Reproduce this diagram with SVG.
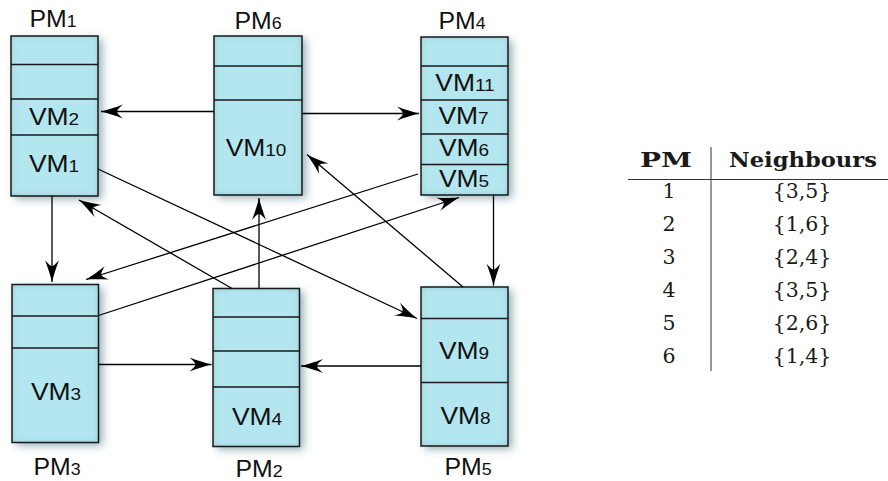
<svg xmlns="http://www.w3.org/2000/svg" width="888" height="481" viewBox="0 0 888 481">
<style>
.box{fill:#b3e6ef;filter:url(#sh)}
.out{fill:none;stroke:#1a1a1a;stroke-width:1.5}
.div{stroke:#1a1a1a;stroke-width:1.5}
.lb{font-family:"Liberation Sans",Arial,sans-serif;font-size:23px;fill:#111;text-anchor:middle}
.sub{font-size:16.5px}
.con line{stroke:#000;stroke-width:1.3;marker-end:url(#ah)}
.tb{font-family:"DejaVu Serif","Liberation Serif",serif;font-size:20.5px;fill:#1a1a1a;text-anchor:middle}
.th{font-weight:bold;font-size:21px}
</style>
<defs>
<filter id="sh" x="-20%" y="-15%" width="150%" height="135%">
<feGaussianBlur in="SourceAlpha" stdDeviation="4" result="blur"/>
<feOffset in="blur" dx="4" dy="3" result="off"/>
<feFlood flood-color="#3d6b78" flood-opacity="0.55" result="fc"/>
<feComposite in="fc" in2="off" operator="in" result="drop"/>
<feGaussianBlur in="SourceAlpha" stdDeviation="3" result="ib"/>
<feComposite in="SourceAlpha" in2="ib" operator="arithmetic" k2="1" k3="-1" result="edge"/>
<feFlood flood-color="#7fb3be" flood-opacity="0.7" result="ic"/>
<feComposite in="ic" in2="edge" operator="in" result="inner"/>
<feMerge><feMergeNode in="drop"/><feMergeNode in="SourceGraphic"/><feMergeNode in="inner"/></feMerge>
</filter>
<marker id="ah" markerUnits="userSpaceOnUse" viewBox="-23 -8 24 16" refX="0" refY="0" markerWidth="24" markerHeight="16" orient="auto">
<path d="M0,0 C-6,-1.5 -14,-4 -22,-7 C-17,-3 -16,-1 -16,0 C-16,1 -17,3 -22,7 C-14,4 -6,1.5 0,0 Z" fill="#000"/>
</marker>
</defs>

<g id="PM1">
<rect class="box" x="11" y="36" width="87" height="160"/>
<line class="div" x1="11" y1="64.5" x2="98" y2="64.5"/>
<line class="div" x1="11" y1="99" x2="98" y2="99"/>
<line class="div" x1="11" y1="135" x2="98" y2="135"/>
<rect class="out" x="11" y="36" width="87" height="160"/>
<text class="lb" transform="translate(53 27) scale(1.08 1)">PM<tspan class="sub">1</tspan></text>
<text class="lb" transform="translate(54 124.5) scale(1.15 1)">VM<tspan class="sub">2</tspan></text>
<text class="lb" transform="translate(54 172) scale(1.15 1)">VM<tspan class="sub">1</tspan></text>
</g>

<g id="PM6">
<rect class="box" x="214" y="36" width="88" height="159"/>
<line class="div" x1="214" y1="66" x2="302" y2="66"/>
<line class="div" x1="214" y1="100" x2="302" y2="100"/>
<rect class="out" x="214" y="36" width="88" height="159"/>
<text class="lb" transform="translate(258 29) scale(1.08 1)">PM<tspan class="sub">6</tspan></text>
<text class="lb" transform="translate(256 156) scale(1.15 1)">VM<tspan class="sub">10</tspan></text>
</g>

<g id="PM4">
<rect class="box" x="421" y="37" width="87" height="158"/>
<line class="div" x1="421" y1="66" x2="508" y2="66"/>
<line class="div" x1="421" y1="100" x2="508" y2="100"/>
<line class="div" x1="421" y1="134" x2="508" y2="134"/>
<line class="div" x1="421" y1="164.5" x2="508" y2="164.5"/>
<rect class="out" x="421" y="37" width="87" height="158"/>
<text class="lb" transform="translate(462 28.5) scale(1.08 1)">PM<tspan class="sub">4</tspan></text>
<text class="lb" transform="translate(465 91) scale(1.15 1)">VM<tspan class="sub">11</tspan></text>
<text class="lb" transform="translate(463.5 123.5) scale(1.15 1)">VM<tspan class="sub">7</tspan></text>
<text class="lb" transform="translate(464 156) scale(1.15 1)">VM<tspan class="sub">6</tspan></text>
<text class="lb" transform="translate(464 187) scale(1.15 1)">VM<tspan class="sub">5</tspan></text>
</g>

<g id="PM3">
<rect class="box" x="12" y="284.5" width="86.5" height="158"/>
<line class="div" x1="12" y1="316" x2="98.5" y2="316"/>
<line class="div" x1="12" y1="348" x2="98.5" y2="348"/>
<rect class="out" x="12" y="284.5" width="86.5" height="158"/>
<text class="lb" transform="translate(56 400) scale(1.15 1)">VM<tspan class="sub">3</tspan></text>
<text class="lb" transform="translate(57 475) scale(1.08 1)">PM<tspan class="sub">3</tspan></text>
</g>

<g id="PM2">
<rect class="box" x="213" y="288.5" width="86.5" height="158"/>
<line class="div" x1="213" y1="317" x2="299.5" y2="317"/>
<line class="div" x1="213" y1="351" x2="299.5" y2="351"/>
<line class="div" x1="213" y1="387" x2="299.5" y2="387"/>
<rect class="out" x="213" y="288.5" width="86.5" height="158"/>
<text class="lb" transform="translate(257 424.5) scale(1.15 1)">VM<tspan class="sub">4</tspan></text>
<text class="lb" transform="translate(259 477) scale(1.08 1)">PM<tspan class="sub">2</tspan></text>
</g>

<g id="PM5">
<rect class="box" x="421" y="287" width="87" height="159"/>
<line class="div" x1="421" y1="318.5" x2="508" y2="318.5"/>
<line class="div" x1="421" y1="382.5" x2="508" y2="382.5"/>
<rect class="out" x="421" y="287" width="87" height="159"/>
<text class="lb" transform="translate(464 358.5) scale(1.15 1)">VM<tspan class="sub">9</tspan></text>
<text class="lb" transform="translate(465.5 424) scale(1.15 1)">VM<tspan class="sub">8</tspan></text>
<text class="lb" transform="translate(468 475) scale(1.08 1)">PM<tspan class="sub">5</tspan></text>
</g>

<g id="connectors" class="con">
<line x1="214" y1="111.5" x2="101" y2="111.5"/>
<line x1="302" y1="113.5" x2="419" y2="113.5"/>
<line x1="52" y1="196" x2="52" y2="282"/>
<line x1="98" y1="169" x2="417" y2="318.5"/>
<line x1="232" y1="288.5" x2="79" y2="200"/>
<line x1="259" y1="288.5" x2="259" y2="198"/>
<line x1="418" y1="174" x2="86" y2="279.5"/>
<line x1="98.5" y1="315.5" x2="459" y2="197.5"/>
<line x1="98.5" y1="364.5" x2="211.5" y2="364.5"/>
<line x1="421" y1="366" x2="301" y2="366"/>
<line x1="463" y1="287" x2="307" y2="154.5"/>
<line x1="493.5" y1="195" x2="493.5" y2="285.5"/>
</g>

<g id="table">
<line x1="711" y1="147" x2="711" y2="371" stroke="#333" stroke-width="1"/>
<line x1="628" y1="179.5" x2="888" y2="179.5" stroke="#333" stroke-width="1.2"/>
<text class="tb th" x="666" y="167" textLength="52" lengthAdjust="spacingAndGlyphs">PM</text>
<text class="tb th" x="803" y="167" textLength="148" lengthAdjust="spacingAndGlyphs">Neighbours</text>
<text class="tb" x="669" y="198">1</text><text class="tb" x="802" y="198">{3,5}</text>
<text class="tb" x="669" y="231">2</text><text class="tb" x="802" y="231">{1,6}</text>
<text class="tb" x="669" y="264">3</text><text class="tb" x="802" y="264">{2,4}</text>
<text class="tb" x="669" y="297">4</text><text class="tb" x="802" y="297">{3,5}</text>
<text class="tb" x="669" y="330">5</text><text class="tb" x="802" y="330">{2,6}</text>
<text class="tb" x="669" y="363">6</text><text class="tb" x="802" y="363">{1,4}</text>
</g>
</svg>
